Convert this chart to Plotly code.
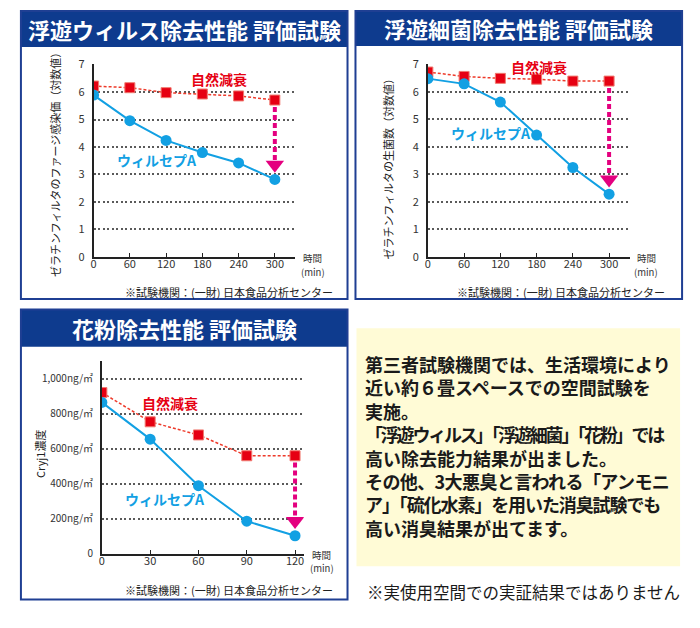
import plotly.graph_objects as go

W, H = 700, 628
FONT = "Noto Sans CJK JP"

# ---------------- data ----------------
virus_time = [0, 60, 120, 180, 240, 300]
virus_natural = [6.22, 6.16, 5.98, 5.93, 5.86, 5.71]
virus_wilsep = [5.89, 4.96, 4.24, 3.80, 3.42, 2.82]

bact_time = [0, 60, 120, 180, 240, 300]
bact_natural = [6.72, 6.56, 6.49, 6.46, 6.39, 6.39]
bact_wilsep = [6.48, 6.29, 5.63, 4.43, 3.25, 2.28]

pollen_time = [0, 30, 60, 90, 120]
pollen_natural = [922, 755, 680, 561, 561]
pollen_wilsep = [866, 656, 390, 187, 104]

log_ticks = [0, 1, 2, 3, 4, 5, 6, 7]
log_tick_labels = [str(v) for v in log_ticks]
pollen_ticks = [0, 200, 400, 600, 800, 1000]
pollen_tick_labels = ["0", "200ng/㎡", "400ng/㎡", "600ng/㎡", "800ng/㎡", "1,000ng/㎡"]
min_ticks_300 = [0, 60, 120, 180, 240, 300]
min_ticks_120 = [0, 30, 60, 90, 120]

titles = ["浮遊ウィルス除去性能 評価試験", "浮遊細菌除去性能 評価試験", "花粉除去性能 評価試験"]
ytitles = ["ゼラチンフィルタのファージ感染価（対数値）", "ゼラチンフィルタの生菌数（対数値）", "Cryj1濃度"]
natural_label = "自然減衰"
wilsep_label = "ウィルセプA"
time_label = "時間"
unit_label = "(min)"
source_note = "※試験機関：(一財) 日本食品分析センター"
body_lines = [
    "第三者試験機関では、生活環境により",
    "近い約６畳スペースでの空間試験を",
    "実施。",
    "「浮遊ウィルス」「浮遊細菌」「花粉」では",
    "高い除去能力結果が出ました。",
    "その他、3大悪臭と言われる「アンモニ",
    "ア」「硫化水素」を用いた消臭試験でも",
    "高い消臭結果が出てます。",
]
body_spacing = [0, 0, 0, -2.2, 0, -0.6, -1.1, 0]
disclaimer = "※実使用空間での実証結果ではありません"

# ---------------- style ----------------
NAVY = "#0e3b8e"
RED = "#e60012"
BLUE = "#12a0e3"
PINK = "#e4007f"
GRID = "#5a5a5a"
AXIS = "#222222"


def fx(px):
    return px / W


def fy(py):
    return 1 - py / H


fig = go.Figure()

panels = [
    dict(t=virus_time, nat=virus_natural, wil=virus_wilsep,
         xpx=(91, 293), x0px=91, xrefpx=273, xref=300, xt=min_ticks_300,
         ypx=(255, 57), yrefpx=58, yref=7, yt=log_ticks, ytl=log_tick_labels,
         box=(18, 3, 346, 298), hdr=40,
         ytitle_xy=(52, 158), nat_xy=(217, 73), wil_xy=(155, 156),
         time_xy=(311, 256), note_xy=(333, 291)),
    dict(t=bact_time, nat=bact_natural, wil=bact_wilsep,
         xpx=(426.7, 630), x0px=426.7, xrefpx=608.7, xref=300, xt=min_ticks_300,
         ypx=(255, 57), yrefpx=57.7, yref=7, yt=log_ticks, ytl=log_tick_labels,
         box=(354, 3, 682, 298), hdr=39,
         ytitle_xy=(387, 162), nat_xy=(538, 60), wil_xy=(490, 128),
         time_xy=(646, 256), note_xy=(667, 291)),
    dict(t=pollen_time, nat=pollen_natural, wil=pollen_wilsep,
         xpx=(99.3, 302), x0px=99.3, xrefpx=293.3, xref=120, xt=min_ticks_120,
         ypx=(559.3, 361.7), yrefpx=380, yref=1000, yt=pollen_ticks, ytl=pollen_tick_labels,
         box=(18, 309, 346, 606), hdr=347,
         ytitle_xy=(37, 457), nat_xy=(168, 405), wil_xy=(163, 503),
         time_xy=(320, 560), note_xy=(333, 596)),
]

shapes = []
annotations = []


def ann(text, x, y, size, color, xanchor="center", weight="normal", angle=0, **kw):
    d = dict(text=text, xref="paper", yref="paper", x=fx(x), y=fy(y),
             showarrow=False, xanchor=xanchor, yanchor="middle", textangle=angle,
             font=dict(family=FONT, size=size, color=color, weight=weight))
    d.update(kw)
    annotations.append(d)


for i, p in enumerate(panels):
    n = i + 1
    xa = "x" if n == 1 else f"x{n}"
    ya = "y" if n == 1 else f"y{n}"
    xkey = "xaxis" if n == 1 else f"xaxis{n}"
    ykey = "yaxis" if n == 1 else f"yaxis{n}"

    xmax = p["xref"] * (p["xpx"][1] - p["x0px"]) / (p["xrefpx"] - p["x0px"])
    ymax = p["yref"] * (p["ypx"][0] - p["ypx"][1]) / (p["ypx"][0] - p["yrefpx"])
    ppu_y = (p["ypx"][0] - p["ypx"][1]) / ymax

    xaxis_cfg = dict(domain=[fx(p["xpx"][0]), fx(p["xpx"][1])], range=[0, xmax],
                     anchor=ya, showgrid=False, zeroline=False, showline=True,
                     linecolor=AXIS, linewidth=1.5, ticks="inside", ticklen=4,
                     tickcolor=AXIS, tickwidth=1, tickvals=p["xt"],
                     tickfont=dict(family=FONT, size=11, color="#333"))
    try:
        fig.update_layout({xkey: dict(xaxis_cfg, ticklabelstandoff=-4)})
    except Exception:
        fig.update_layout({xkey: xaxis_cfg})
    fig.update_layout({
        ykey: dict(domain=[fy(p["ypx"][0]), fy(p["ypx"][1])], range=[0, ymax],
                   anchor=xa, showgrid=True, gridcolor=GRID, gridwidth=1.5,
                   griddash="2px,2.5px", zeroline=False, showline=True,
                   linecolor=AXIS, linewidth=1.5, ticks="", tickvals=p["yt"],
                   ticktext=p["ytl"], ticklabelstandoff=5,
                   tickfont=dict(family=FONT, size=11 if n < 3 else 10, color="#333")),
    })

    fig.add_trace(go.Scatter(
        x=p["t"], y=p["nat"], xaxis=xa, yaxis=ya, mode="lines+markers",
        line=dict(color="#ee3a2a", width=1.5, dash="3px,2px"),
        marker=dict(symbol="square", size=10, color=RED, line=dict(color="#f07a70", width=1)),
        showlegend=False, hoverinfo="skip"))
    fig.add_trace(go.Scatter(
        x=p["t"], y=p["wil"], xaxis=xa, yaxis=ya, mode="lines+markers",
        line=dict(color=BLUE, width=2),
        marker=dict(symbol="circle", size=11, color=BLUE),
        showlegend=False, hoverinfo="skip"))

    t_end = p["t"][-1]
    y_start = p["nat"][-1] - 7 / ppu_y
    y_tri = p["wil"][-1] + 15 / ppu_y
    fig.add_trace(go.Scatter(
        x=[t_end, t_end], y=[y_start, y_tri + 4 / ppu_y], xaxis=xa, yaxis=ya,
        mode="lines", line=dict(color=PINK, width=4, dash="5px,3px"),
        showlegend=False, hoverinfo="skip"))
    fig.add_trace(go.Scatter(
        x=[t_end], y=[y_tri], xaxis=xa, yaxis=ya, mode="markers",
        marker=dict(symbol="triangle-down", size=16, color=PINK),
        showlegend=False, hoverinfo="skip"))

    x0, y0, x1, y1 = p["box"]
    shapes.append(dict(type="rect", xref="paper", yref="paper",
                       x0=fx(x0), x1=fx(x1), y0=fy(y0), y1=fy(p["hdr"]),
                       fillcolor=NAVY, line=dict(width=0), layer="below"))
    shapes.append(dict(type="rect", xref="paper", yref="paper",
                       x0=fx(x0), x1=fx(x1), y0=fy(y0), y1=fy(y1),
                       fillcolor="rgba(0,0,0,0)", line=dict(color="#1f3f93", width=2)))

    ann(titles[i], (x0 + x1) / 2, (y0 + p["hdr"]) / 2, 22, "white", weight="bold")
    ann(ytitles[i], p["ytitle_xy"][0], p["ytitle_xy"][1], 11, "#222", angle=-90)
    ann(natural_label, p["nat_xy"][0], p["nat_xy"][1], 14, RED, weight="bold")
    ann(wilsep_label, p["wil_xy"][0], p["wil_xy"][1], 14, BLUE, weight="bold")
    ann(time_label, p["time_xy"][0], p["time_xy"][1], 9.5, "#333", borderpad=0)
    ann(unit_label, p["time_xy"][0], p["time_xy"][1] + 14, 9.5, "#333", borderpad=0)
    ann(source_note, p["note_xy"][0], p["note_xy"][1], 11, "#222", xanchor="right")

# yellow text box
shapes.append(dict(type="rect", xref="paper", yref="paper",
                   x0=fx(355), x1=fx(680), y0=fy(328), y1=fy(572),
                   fillcolor="#fffbd6", line=dict(width=0), layer="below"))
body_html = "<br>".join(
    (f'<span style="letter-spacing:{s}px">{line}</span>' if s else line)
    for line, s in zip(body_lines, body_spacing))
ann(body_html, 362, 449, 18, "#1a1a1a", xanchor="left", weight="bold", align="left")
ann(disclaimer, 364, 598, 16.5, "#1a1a1a", xanchor="left")

fig.update_layout(width=W, height=H, margin=dict(l=0, r=0, t=0, b=0),
                  paper_bgcolor="white", plot_bgcolor="rgba(0,0,0,0)",
                  shapes=shapes, annotations=annotations, showlegend=False)

fig.write_html("out.html")
